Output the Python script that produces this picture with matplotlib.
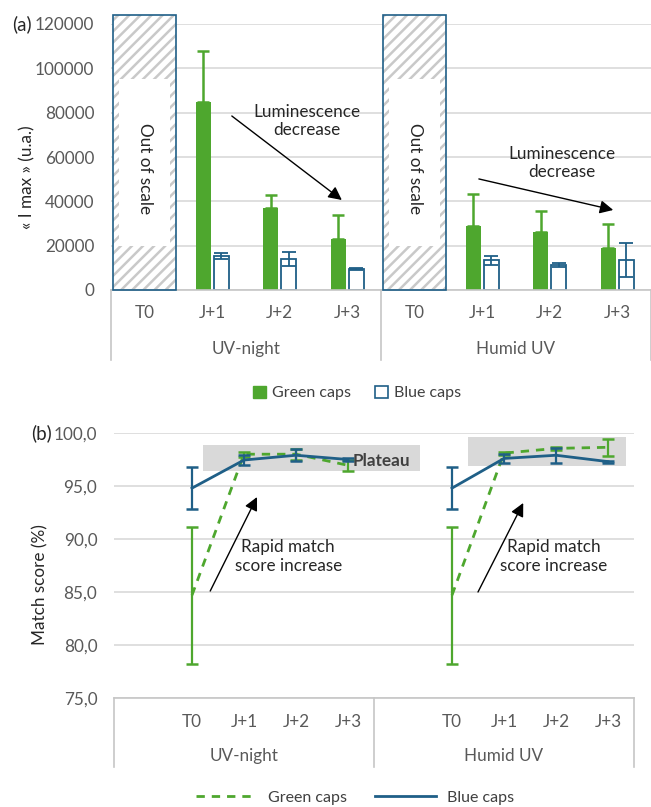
import matplotlib.pyplot as plt
import numpy as np
from matplotlib.patches import Rectangle, Patch
from matplotlib.lines import Line2D

plt.rcParams['font.family'] = ['Lato', 'DejaVu Sans']
plt.rcParams['hatch.linewidth'] = 1.8

GREEN = '#4EA72E'
BLUE = '#1F5F87'
GRID = '#D9D9D9'
AXIS = '#C6C6C6'
TICK = '#595959'
FS = 12.3

# ---- panel (a): luminescence I max ----
groups = ["UV-night", "Humid UV"]
days_a = ["T0", "J+1", "J+2", "J+3"]
out_of_scale = 124000
green_uv = [84800, 37000, 23000]
green_uv_err = [23000, 6000, 10800]
blue_uv = [15300, 14000, 9500]
blue_uv_err = [1400, 3000, 300]
green_hum = [29000, 26200, 19000]
green_hum_err = [14300, 9400, 10800]
blue_hum = [13500, 11300, 13500]
blue_hum_err = [2000, 800, 7500]

# ---- panel (b): match score ----
days_b = ["", "T0", "J+1", "J+2", "J+3"]
green_score_uv = [84.7, 98.0, 98.0, 96.95]
green_score_uv_err = [6.45, 0.25, 0.5, 0.55]
blue_score_uv = [94.8, 97.45, 97.9, 97.5]
blue_score_uv_err = [1.95, 0.5, 0.58, 0.1]
green_score_hum = [84.7, 98.1, 98.55, 98.65]
green_score_hum_err = [6.45, 0.15, 0.15, 0.78]
blue_score_hum = [94.8, 97.6, 97.9, 97.3]
blue_score_hum_err = [1.95, 0.4, 0.7, 0.1]

W, H = 651, 807
fig = plt.figure(figsize=(W / 100, H / 100), dpi=100)


def fx(px):
    return px / W


def fy(py):
    return 1 - py / H


def style_axes(ax):
    for s in ['top', 'right', 'left']:
        ax.spines[s].set_visible(False)
    ax.spines['bottom'].set_color(AXIS)
    ax.spines['bottom'].set_linewidth(1.2)
    ax.tick_params(axis='both', length=0, labelsize=FS, colors=TICK)
    ax.tick_params(axis='y', pad=12)
    ax.yaxis.grid(True, color=GRID, lw=1.2)
    ax.set_axisbelow(True)
    ax.set_xticks([])


def category_box(ax, labels, n_per_group, y_lab, y_grp, y_end):
    tr = ax.get_xaxis_transform()
    n = len(labels)
    for i, lab in enumerate(labels):
        ax.text(i, y_lab, lab, transform=tr, ha='center', va='center',
                fontsize=FS, color=TICK)
    for g, name in enumerate(groups):
        c = g * n_per_group + (n_per_group - 1) / 2
        ax.text(c, y_grp, name, transform=tr, ha='center', va='center',
                fontsize=FS, color=TICK)
    for xb in [-0.5, n_per_group - 0.5, n - 0.5]:
        ax.plot([xb, xb], [0, y_end], transform=tr, color=AXIS, lw=1.2,
                clip_on=False)


# ================= panel (a) =================
ax1 = fig.add_axes([fx(111), fy(290), fx(540), fy(24) - fy(290)])
style_axes(ax1)
ax1.set_xlim(-0.5, 7.5)
ax1.set_ylim(0, 120000)
ax1.set_yticks(np.arange(0, 120001, 20000))
ax1.set_yticklabels([str(v) for v in range(0, 120001, 20000)])

bw = 0.22
off = 0.135
for g, (gv, ge, bv, be) in enumerate([(green_uv, green_uv_err, blue_uv, blue_uv_err),
                                      (green_hum, green_hum_err, blue_hum, blue_hum_err)]):
    base = g * 4
    xs = np.arange(1, 4) + base
    ax1.bar(xs - off, gv, bw, color=GREEN, zorder=2)
    ax1.errorbar(xs - off, gv, yerr=[np.zeros(3), ge], fmt='none', ecolor=GREEN,
                 elinewidth=1.8, capsize=4, capthick=1.8, zorder=3)
    ax1.bar(xs + off, bv, bw, facecolor='white', edgecolor=BLUE, lw=1.3, zorder=2)
    ax1.errorbar(xs + off, bv, yerr=be, fmt='none', ecolor=BLUE,
                 elinewidth=1.3, capsize=5, capthick=1.3, zorder=3)
    # out of scale T0 bar
    tw = 0.93
    ax1.bar(base, out_of_scale, tw, facecolor='white', edgecolor='#C9C9C9',
            hatch='///', lw=0, zorder=2, clip_on=False)
    ax1.add_patch(Rectangle((base - tw / 2 + 0.09, 20000), tw - 0.18, 75000,
                            facecolor='white', edgecolor='none', zorder=2.5))
    ax1.bar(base, out_of_scale, tw, facecolor='none', edgecolor=BLUE, lw=1.2,
            zorder=3, clip_on=False)
    ax1.text(base, 55000, "Out of scale", rotation=270, ha='center',
             va='center', fontsize=FS, color='#262626', zorder=4)

category_box(ax1, days_a * 2, 4, -0.0865, -0.222, -0.263)

arrow = dict(arrowstyle='-|>', color='black', lw=1.0, mutation_scale=20,
             shrinkA=0, shrinkB=0)
ax1.annotate("", xy=(2.92, 40600), xytext=(1.29, 78500), arrowprops=arrow, zorder=5)
ax1.text(2.40, 76200, "Luminescence\ndecrease", ha='center', va='center',
         fontsize=FS, color='#262626', linespacing=1.2)
ax1.annotate("", xy=(6.94, 36100), xytext=(4.95, 50100), arrowprops=arrow, zorder=5)
ax1.text(6.18, 57300, "Luminescence\ndecrease", ha='center', va='center',
         fontsize=FS, color='#262626', linespacing=1.2)

fig.text(fx(27), fy(177), "« I max » (u.a.)", rotation=90, ha='center',
         va='center', fontsize=FS, color='#262626')
fig.text(fx(22), fy(24), "(a)", ha='center', va='center', fontsize=13.5,
         color='#262626')

leg1 = [Patch(facecolor=GREEN, edgecolor=GREEN, label="Green caps"),
        Patch(facecolor='white', edgecolor=BLUE, lw=1.2, label="Blue caps")]
fig.legend(handles=leg1, loc='center', bbox_to_anchor=(fx(357), fy(393)),
           ncol=2, frameon=False, fontsize=11.5, handlelength=0.8,
           handleheight=0.8, handletextpad=0.4, columnspacing=1.5,
           labelcolor='#404040')

# ================= panel (b) =================
ax2 = fig.add_axes([fx(114), fy(698), fx(520), fy(433) - fy(698)])
style_axes(ax2)
ax2.set_xlim(-0.5, 9.5)
ax2.set_ylim(75, 100)
ax2.set_yticks(np.arange(75, 100.1, 5))
ax2.set_yticklabels([f"{v:.1f}".replace('.', ',') for v in np.arange(75, 100.1, 5)])

ax2.add_patch(Rectangle((1.21, 96.44), 4.17, 2.43, facecolor='#D9D9D9',
                        edgecolor='none', zorder=1))
ax2.add_patch(Rectangle((6.31, 96.9), 3.04, 2.75, facecolor='#D9D9D9',
                        edgecolor='none', zorder=1))

for g, (gv, ge, bv, be) in enumerate([
        (green_score_uv, green_score_uv_err, blue_score_uv, blue_score_uv_err),
        (green_score_hum, green_score_hum_err, blue_score_hum, blue_score_hum_err)]):
    xs = np.arange(1, 5) + g * 5
    ax2.plot(xs, gv, color=GREEN, lw=2, ls=(0, (3, 2.5)), zorder=3)
    ax2.errorbar(xs, gv, yerr=ge, fmt='none', ecolor=GREEN, elinewidth=1.6,
                 capsize=4, capthick=1.8, zorder=3)
    ax2.plot(xs, bv, color=BLUE, lw=2, zorder=4)
    ax2.errorbar(xs, bv, yerr=be, fmt='none', ecolor=BLUE, elinewidth=1.6,
                 capsize=4, capthick=1.8, zorder=4)

ax2.text(4.64, 97.4, "Plateau", ha='center', va='center', fontsize=FS,
         fontweight='bold', color='#404040', zorder=5)

category_box(ax2, days_b * 2, 5, -0.0906, -0.219, -0.26)

ax2.annotate("", xy=(2.25, 93.96), xytext=(1.35, 85.09), arrowprops=arrow, zorder=5)
ax2.text(2.85, 88.35, "Rapid match\nscore increase", ha='center', va='center',
         fontsize=FS, color='#262626', linespacing=1.2)
ax2.annotate("", xy=(7.37, 93.4), xytext=(6.5, 85.0), arrowprops=arrow, zorder=5)
ax2.text(7.95, 88.35, "Rapid match\nscore increase", ha='center', va='center',
         fontsize=FS, color='#262626', linespacing=1.2)

fig.text(fx(40), fy(585), "Match score (%)", rotation=90, ha='center',
         va='center', fontsize=FS, color='#262626')
fig.text(fx(41), fy(433), "(b)", ha='center', va='center', fontsize=13.5,
         color='#262626')

leg2 = [Line2D([], [], color=GREEN, lw=2, ls=(0, (3, 2.5)), label="Green caps"),
        Line2D([], [], color=BLUE, lw=2, label="Blue caps")]
fig.legend(handles=leg2, loc='center', bbox_to_anchor=(fx(355), fy(798)),
           ncol=2, frameon=False, fontsize=11.5, handlelength=3.8,
           handletextpad=0.7, columnspacing=1.8, labelcolor='#404040')

fig.savefig("out.png", dpi=100)
